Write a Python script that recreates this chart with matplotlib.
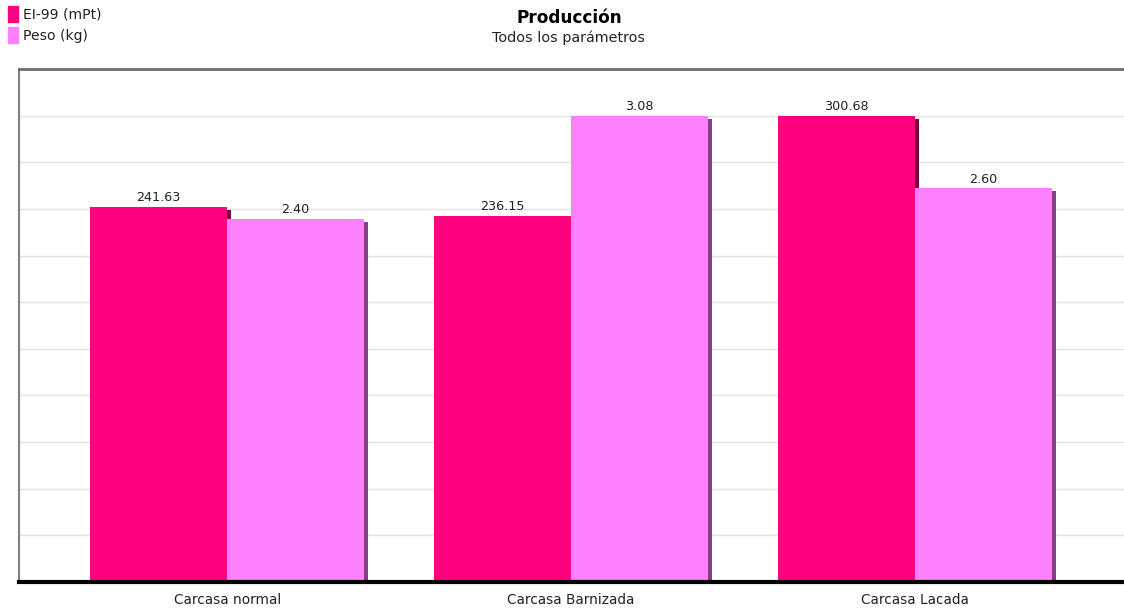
import numpy as np
import matplotlib.pyplot as plt
from matplotlib.patches import Rectangle

# Datos
categorias = ['Carcasa normal', 'Carcasa Barnizada', 'Carcasa Lacada']
ei99 = [241.63, 236.15, 300.68]   # EI-99 (mPt)
peso = [2.40, 3.08, 2.60]         # Peso (kg)
series = ['EI-99 (mPt)', 'Peso (kg)']

col_ei = '#FF0080'
col_peso = '#FF80FF'
sombra_ei = '#7A0040'
sombra_peso = '#804080'

# Cada serie se normaliza a su propio máximo (100 %)
ei_pct = np.array(ei99) / max(ei99) * 100
peso_pct = np.array(peso) / max(peso) * 100

fig = plt.figure(figsize=(11.24, 6.12), dpi=100)
ax = fig.add_axes([19 / 1124, 30 / 612, 1 - 19 / 1124, 513 / 612])

x = np.arange(len(categorias))
w = 0.398
dx = 3.5 / 344      # desplazamiento de la sombra en x
dy = 3 / 4.664      # desplazamiento de la sombra en y

# Sombras
ax.bar(x - w / 2 + dx, ei_pct - dy, width=w, color=sombra_ei, zorder=2)
ax.bar(x + w / 2 + dx, peso_pct - dy, width=w, color=sombra_peso, zorder=2)

# Barras
ax.bar(x - w / 2, ei_pct, width=w, color=col_ei, zorder=3)
ax.bar(x + w / 2, peso_pct, width=w, color=col_peso, zorder=4)

for xi, v, r in zip(x - w / 2, ei_pct, ei99):
    ax.text(xi, v + 0.6, f'{r:.2f}', ha='center', va='bottom', fontsize=9.2, color='#222222', zorder=5)
for xi, v, r in zip(x + w / 2, peso_pct, peso):
    ax.text(xi, v + 0.6, f'{r:.2f}', ha='center', va='bottom', fontsize=9.2, color='#222222', zorder=5)

ax.set_xlim(-0.605, 2.607)
ax.set_ylim(0, 110)
ax.set_yticks(np.arange(0, 111, 10))
ax.set_yticklabels([])
ax.tick_params(axis='y', length=0)
ax.set_xticks(x)
ax.set_xticklabels(categorias, fontsize=9.8, color='#222222')
ax.tick_params(axis='x', length=0, pad=8)
ax.grid(axis='y', color='#e2e2e2', linewidth=1, zorder=0)
ax.set_axisbelow(True)

ax.spines['right'].set_visible(False)
ax.spines['top'].set_color('#6e6e6e')
ax.spines['top'].set_linewidth(2)
ax.spines['left'].set_color('#808080')
ax.spines['left'].set_linewidth(1.5)
ax.spines['bottom'].set_color('black')
ax.spines['bottom'].set_linewidth(3)
ax.spines['bottom'].set_zorder(6)

# Título
fig.text(569 / 1124, 1 - 18 / 612, 'Producción', ha='center', va='center',
         fontsize=12.2, fontweight='bold', color='black')
fig.text(569 / 1124, 1 - 38 / 612, 'Todos los parámetros', ha='center', va='center',
         fontsize=10.4, color='#222222')

# Leyenda
for i, (nombre, col) in enumerate(zip(series, [col_ei, col_peso])):
    y0 = 6 + i * 21
    fig.patches.append(Rectangle((8 / 1124, 1 - (y0 + 16) / 612), 10 / 1124, 16 / 612,
                                 transform=fig.transFigure, color=col, figure=fig))
    fig.text(23 / 1124, 1 - (y0 + 9) / 612, nombre, ha='left', va='center',
             fontsize=10.1, color='#222222')

plt.savefig('out.png', dpi=100)
